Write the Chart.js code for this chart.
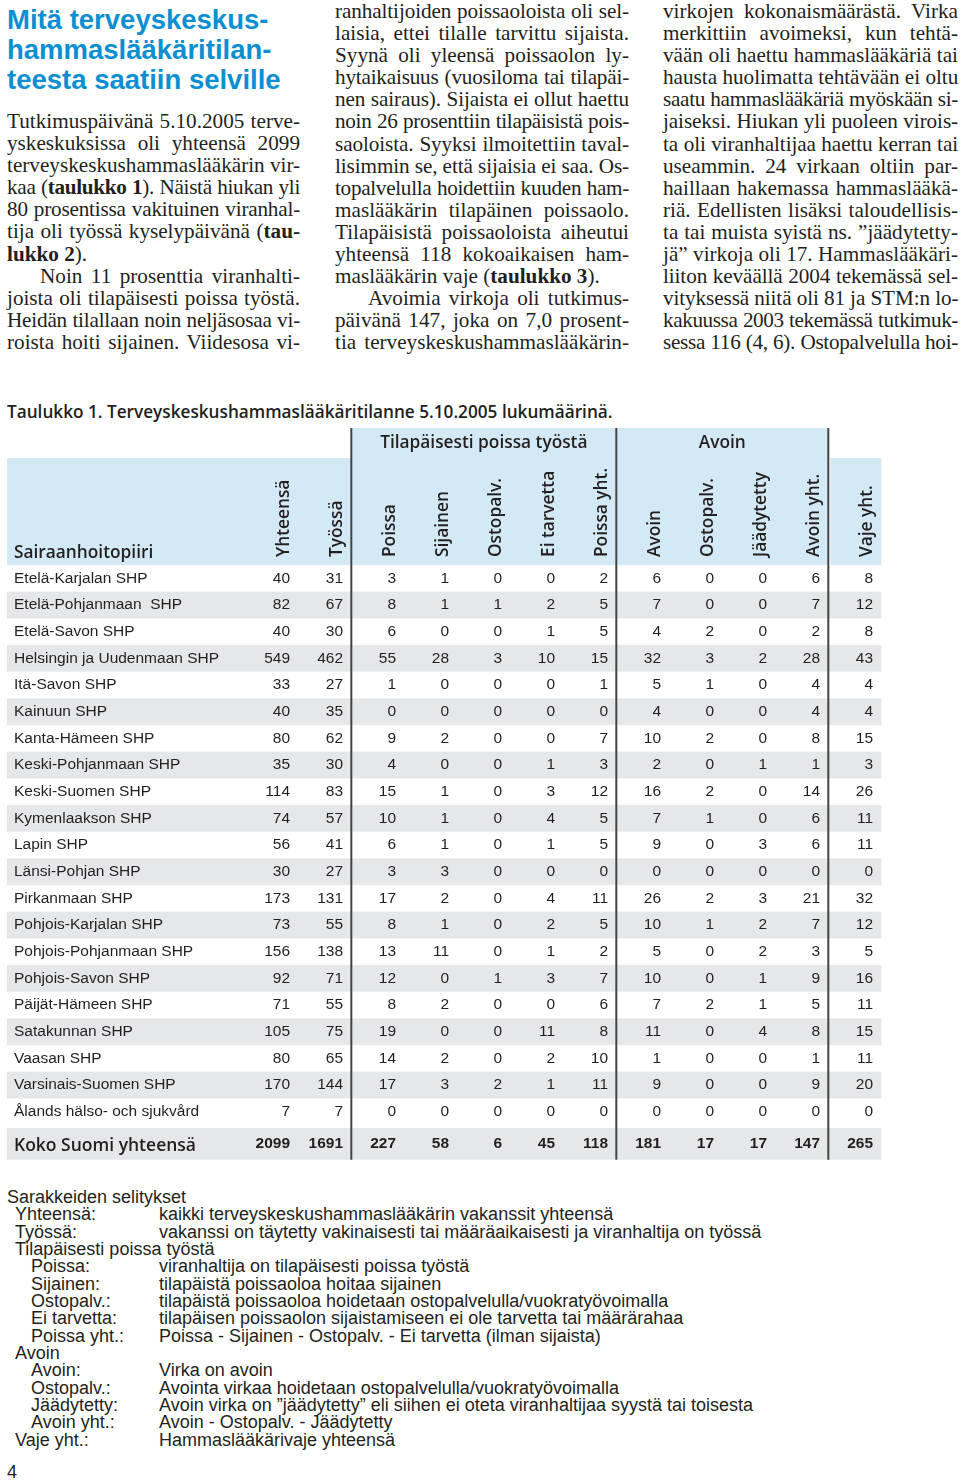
<!DOCTYPE html>
<html lang="fi">
<head>
<meta charset="utf-8">
<script src="https://cdn.jsdelivr.net/npm/chart.js"></script>
<style>
  body { margin: 0; width: 960px; height: 1482px; position: relative; background: #fff; color: #231f20; overflow: hidden; }
  .blk { position: absolute; }
  .title { font-family: "Liberation Sans", Arial, sans-serif; font-weight: bold; font-size: 27.5px; line-height: 30px; color: #0b8fd2; }
  .txt { font-family: "Liberation Serif", "Times New Roman", serif; font-size: 21.2px; line-height: 22.1px; }
  .txt div { white-space: nowrap; text-align: justify; text-align-last: justify; }
  .txt div.end { text-align-last: left; }
  .txt div.ind { text-indent: 33px; }
  .caption { font-family: "Open Sans", sans-serif; font-weight: 600; font-size: 17.2px; }
  .legend { font-family: "Liberation Sans", Arial, sans-serif; font-size: 18px; line-height: 17.35px; }
  .legend div { position: relative; height: 17.35px; white-space: nowrap; }
  .legend span { position: absolute; left: 144px; }
  .legend .l2 span { left: 128px; }
  #wrap { position: absolute; left: 0; top: 395px; width: 960px; height: 770px; }
</style>
</head>
<body>

<div class="blk title" style="left:7px;top:5px;">Mitä terveyskeskus-<br>hammaslääkäritilan-<br>teesta saatiin selville</div>

<div class="blk txt" style="left:7px;top:110px;width:293px;">
  <div>Tutkimuspäivänä 5.10.2005 terve-</div>
  <div>yskeskuksissa oli yhteensä 2099</div>
  <div>terveyskeskushammaslääkärin vir-</div>
  <div>kaa (<b>taulukko 1</b>). Näistä hiukan yli</div>
  <div>80 prosentissa vakituinen viranhal-</div>
  <div>tija oli työssä kyselypäivänä (<b>tau-</b></div>
  <div class="end"><b>lukko 2</b>).</div>
  <div class="ind">Noin 11 prosenttia viranhalti-</div>
  <div>joista oli tilapäisesti poissa työstä.</div>
  <div>Heidän tilallaan noin neljäsosaa vi-</div>
  <div>roista hoiti sijainen. Viidesosa vi-</div>
</div>

<div class="blk txt" style="left:335px;top:0px;width:294px;">
  <div>ranhaltijoiden poissaoloista oli sel-</div>
  <div>laisia, ettei tilalle tarvittu sijaista.</div>
  <div>Syynä oli yleensä poissaolon ly-</div>
  <div>hytaikaisuus (vuosiloma tai tilapäi-</div>
  <div>nen sairaus). Sijaista ei ollut haettu</div>
  <div>noin 26 prosenttiin tilapäisistä pois-</div>
  <div>saoloista. Syyksi ilmoitettiin taval-</div>
  <div>lisimmin se, että sijaisia ei saa. Os-</div>
  <div>topalvelulla hoidettiin kuuden ham-</div>
  <div>maslääkärin tilapäinen poissaolo.</div>
  <div>Tilapäisistä poissaoloista aiheutui</div>
  <div>yhteensä 118 kokoaikaisen ham-</div>
  <div class="end">maslääkärin vaje (<b>taulukko 3</b>).</div>
  <div class="ind">Avoimia virkoja oli tutkimus-</div>
  <div>päivänä 147, joka on 7,0 prosent-</div>
  <div>tia terveyskeskushammaslääkärin-</div>
</div>

<div class="blk txt" style="left:663px;top:0px;width:295px;">
  <div>virkojen kokonaismäärästä. Virka</div>
  <div>merkittiin avoimeksi, kun tehtä-</div>
  <div>vään oli haettu hammaslääkäriä tai</div>
  <div>hausta huolimatta tehtävään ei oltu</div>
  <div>saatu hammaslääkäriä myöskään si-</div>
  <div>jaiseksi. Hiukan yli puoleen virois-</div>
  <div>ta oli viranhaltijaa haettu kerran tai</div>
  <div>useammin. 24 virkaan oltiin par-</div>
  <div>haillaan hakemassa hammaslääkä-</div>
  <div>riä. Edellisten lisäksi taloudellisis-</div>
  <div>ta tai muista syistä ns. ”jäädytetty-</div>
  <div>jä” virkoja oli 17. Hammaslääkäri-</div>
  <div>liiton keväällä 2004 tekemässä sel-</div>
  <div>vityksessä niitä oli 81 ja STM:n lo-</div>
  <div>kakuussa 2003 tekemässä tutkimuk-</div>
  <div>sessa 116 (4, 6). Ostopalvelulla hoi-</div>
</div>

<div class="blk caption" style="left:7px;top:400px;">Taulukko 1. Terveyskeskushammaslääkäritilanne 5.10.2005 lukumäärinä.</div>

<div id="wrap"><canvas id="table"></canvas></div>

<div class="blk legend" style="left:7px;top:1189px;">
  <div>Sarakkeiden selitykset</div>
  <div style="left:8px">Yhteensä:<span>kaikki terveyskeskushammaslääkärin vakanssit yhteensä</span></div>
  <div style="left:8px">Työssä:<span>vakanssi on täytetty vakinaisesti tai määräaikaisesti ja viranhaltija on työssä</span></div>
  <div style="left:8px">Tilapäisesti poissa työstä</div>
  <div class="l2" style="left:24px">Poissa:<span>viranhaltija on tilapäisesti poissa työstä</span></div>
  <div class="l2" style="left:24px">Sijainen:<span>tilapäistä poissaoloa hoitaa sijainen</span></div>
  <div class="l2" style="left:24px">Ostopalv.:<span>tilapäistä poissaoloa hoidetaan ostopalvelulla/vuokratyövoimalla</span></div>
  <div class="l2" style="left:24px">Ei tarvetta:<span>tilapäisen poissaolon sijaistamiseen ei ole tarvetta tai määrärahaa</span></div>
  <div class="l2" style="left:24px">Poissa yht.:<span>Poissa - Sijainen - Ostopalv. - Ei tarvetta (ilman sijaista)</span></div>
  <div style="left:8px">Avoin</div>
  <div class="l2" style="left:24px">Avoin:<span>Virka on avoin</span></div>
  <div class="l2" style="left:24px">Ostopalv.:<span>Avointa virkaa hoidetaan ostopalvelulla/vuokratyövoimalla</span></div>
  <div class="l2" style="left:24px">Jäädytetty:<span>Avoin virka on ”jäädytetty” eli siihen ei oteta viranhaltijaa syystä tai toisesta</span></div>
  <div class="l2" style="left:24px">Avoin yht.:<span>Avoin - Ostopalv. - Jäädytetty</span></div>
  <div style="left:8px">Vaje yht.:<span>Hammaslääkärivaje yhteensä</span></div>
</div>

<div class="blk legend" style="left:7px;top:1464px;">4</div>

<script>
// rows of the table (last one is the national total)
const regions = [
  'Etelä-Karjalan SHP', 'Etelä-Pohjanmaan  SHP', 'Etelä-Savon SHP', 'Helsingin ja Uudenmaan SHP',
  'Itä-Savon SHP', 'Kainuun SHP', 'Kanta-Hämeen SHP', 'Keski-Pohjanmaan SHP', 'Keski-Suomen SHP',
  'Kymenlaakson SHP', 'Lapin SHP', 'Länsi-Pohjan SHP', 'Pirkanmaan SHP', 'Pohjois-Karjalan SHP',
  'Pohjois-Pohjanmaan SHP', 'Pohjois-Savon SHP', 'Päijät-Hämeen SHP', 'Satakunnan SHP',
  'Vaasan SHP', 'Varsinais-Suomen SHP', 'Ålands hälso- och sjukvård', 'Koko Suomi yhteensä'
];

const yhteensa       = [40, 82, 40, 549, 33, 40, 80, 35, 114, 74, 56, 30, 173, 73, 156, 92, 71, 105, 80, 170, 7, 2099];
const tyossa         = [31, 67, 30, 462, 27, 35, 62, 30, 83, 57, 41, 27, 131, 55, 138, 71, 55, 75, 65, 144, 7, 1691];
const poissa         = [3, 8, 6, 55, 1, 0, 9, 4, 15, 10, 6, 3, 17, 8, 13, 12, 8, 19, 14, 17, 0, 227];
const sijainen       = [1, 1, 0, 28, 0, 0, 2, 0, 1, 1, 1, 3, 2, 1, 11, 0, 2, 0, 2, 3, 0, 58];
const ostopalvPoissa = [0, 1, 0, 3, 0, 0, 0, 0, 0, 0, 0, 0, 0, 0, 0, 1, 0, 0, 0, 2, 0, 6];
const eiTarvetta     = [0, 2, 1, 10, 0, 0, 0, 1, 3, 4, 1, 0, 4, 2, 1, 3, 0, 11, 2, 1, 0, 45];
const poissaYht      = [2, 5, 5, 15, 1, 0, 7, 3, 12, 5, 5, 0, 11, 5, 2, 7, 6, 8, 10, 11, 0, 118];
const avoin          = [6, 7, 4, 32, 5, 4, 10, 2, 16, 7, 9, 0, 26, 10, 5, 10, 7, 11, 1, 9, 0, 181];
const ostopalvAvoin  = [0, 0, 2, 3, 1, 0, 2, 0, 2, 1, 0, 0, 2, 1, 0, 0, 2, 0, 0, 0, 0, 17];
const jaadytetty     = [0, 0, 0, 2, 0, 0, 0, 1, 0, 0, 3, 0, 3, 2, 2, 1, 1, 4, 0, 0, 0, 17];
const avoinYht       = [6, 7, 2, 28, 4, 4, 8, 1, 14, 6, 6, 0, 21, 7, 3, 9, 5, 8, 1, 9, 0, 147];
const vajeYht        = [8, 12, 8, 43, 4, 4, 15, 3, 26, 11, 11, 0, 32, 12, 5, 16, 11, 15, 11, 20, 0, 265];

// column keys must be unique for the category scale, labels are what gets shown
const columnKeys = ['yht', 'tyo', 'poi', 'sij', 'ostP', 'eiT', 'poiY', 'avo', 'ostA', 'jaa', 'avoY', 'vaje'];
const columnLabels = ['Yhteensä', 'Työssä', 'Poissa', 'Sijainen', 'Ostopalv.', 'Ei tarvetta',
  'Poissa yht.', 'Avoin', 'Ostopalv.', 'Jäädytetty', 'Avoin yht.', 'Vaje yht.'];
const columnValues = [yhteensa, tyossa, poissa, sijainen, ostopalvPoissa, eiTarvetta,
  poissaYht, avoin, ostopalvAvoin, jaadytetty, avoinYht, vajeYht];

const groupLabels = ['Tilapäisesti poissa työstä', 'Avoin'];
const groupFirst = [2, 7];
const groupLast = [6, 10];

const INK = '#231f20';
const BLUE = '#d4e9f6';
const GREY = '#e6e7e8';
const RULE = '#444444';
const HEAD_SIZE = 17.3;
const lastRow = regions.length - 1;

// squeeze the letter spacing of newspaper lines that would not fit their column
function fitLines() {
  document.querySelectorAll('.txt div').forEach(line => {
    let ls = 0;
    line.style.letterSpacing = '0px';
    while (line.scrollWidth > line.clientWidth && ls > -1.5) {
      ls -= 0.1;
      line.style.letterSpacing = ls.toFixed(1) + 'px';
    }
  });
}
fitLines();
if (document.fonts) document.fonts.ready.then(fitLines);

const tableDecor = {
  id: 'tableDecor',
  beforeDraw(chart) {
    const {ctx, scales: {x, y}} = chart;
    const step = x.getPixelForValue(1) - x.getPixelForValue(0);
    const rowH = y.getPixelForValue(1) - y.getPixelForValue(0);
    const edge = i => x.getPixelForValue(i) + step * 0.27;
    const left = y.left - 7;
    const right = edge(columnKeys.length - 1);
    ctx.save();
    ctx.fillStyle = BLUE;
    // group header band and main header band
    ctx.fillRect(edge(1), x.bottom - 137, edge(10) - edge(1), 31);
    ctx.fillRect(left, x.bottom - 107, edge(10) - left, 107);
    ctx.fillRect(edge(10) + 2, x.bottom - 107, right - edge(10) - 2, 107);
    // zebra stripes
    ctx.fillStyle = GREY;
    regions.forEach((r, i) => {
      const cy = y.getPixelForValue(i);
      if (i === lastRow) {
        ctx.fillRect(left, cy - rowH / 2 + 3, right - left, rowH + 5);
      } else if (i % 2 === 1) {
        ctx.fillRect(left, cy - rowH / 2, right - left, rowH);
      }
    });
    ctx.restore();
  },
  afterDatasetsDraw(chart) {
    const {ctx, chartArea, scales: {x, y}} = chart;
    const step = x.getPixelForValue(1) - x.getPixelForValue(0);
    const edge = i => x.getPixelForValue(i) + step * 0.27;
    ctx.save();
    // cell values
    ctx.textAlign = 'right';
    ctx.textBaseline = 'middle';
    ctx.fillStyle = INK;
    chart.data.datasets.forEach((ds, di) => {
      chart.getDatasetMeta(di).data.forEach((pt, ri) => {
        const total = ri === lastRow;
        ctx.font = (total ? 'bold ' : '') + '15.5px "Liberation Sans", Arial, sans-serif';
        ctx.fillText(String(ds.data[ri].v), pt.x + 6, pt.y + (total ? 5 : 0));
      });
    });
    // column header of the label column and group headers
    ctx.font = '600 ' + HEAD_SIZE + 'px "Open Sans", sans-serif';
    ctx.textAlign = 'left';
    ctx.textBaseline = 'alphabetic';
    ctx.fillText('Sairaanhoitopiiri', y.left, x.bottom - 7);
    ctx.textAlign = 'center';
    ctx.textBaseline = 'middle';
    groupLabels.forEach((g, gi) => {
      const cx = (edge(groupFirst[gi] - 1) + edge(groupLast[gi])) / 2;
      ctx.fillText(g, cx, x.bottom - 122);
    });
    // vertical rules between groups
    ctx.strokeStyle = RULE;
    ctx.lineWidth = 2;
    [1, 6, 10].forEach(i => {
      ctx.beginPath();
      ctx.moveTo(edge(i), x.bottom - 137);
      ctx.lineTo(edge(i), chartArea.bottom + 8);
      ctx.stroke();
    });
    ctx.restore();
  }
};

const datasets = columnKeys.map((key, ci) => ({
  label: columnLabels[ci],
  data: regions.map((r, ri) => ({x: key, y: r, v: columnValues[ci][ri]})),
  pointRadius: 0,
  pointHoverRadius: 0,
  showLine: false
}));

new Chart(document.getElementById('table'), {
  type: 'scatter',
  data: {datasets},
  plugins: [tableDecor],
  options: {
    responsive: true,
    maintainAspectRatio: false,
    animation: false,
    events: [],
    layout: {padding: {left: 14, right: 66.5, top: 0, bottom: 13.3}},
    plugins: {legend: {display: false}, tooltip: {enabled: false}},
    scales: {
      x: {
        type: 'category',
        labels: columnKeys,
        position: 'top',
        offset: true,
        grid: {display: false, drawTicks: false},
        border: {display: false},
        ticks: {
          autoSkip: false,
          minRotation: 90,
          maxRotation: 90,
          padding: 8,
          labelOffset: HEAD_SIZE * 1.2,
          color: INK,
          font: {family: 'Open Sans', weight: '600', size: HEAD_SIZE},
          callback: (v, i) => columnLabels[i]
        },
        afterFit: s => { s.height = 170; }
      },
      y: {
        type: 'category',
        labels: regions,
        offset: true,
        grid: {display: false, drawTicks: false},
        border: {display: false},
        ticks: {
          autoSkip: false,
          crossAlign: 'far',
          padding: 0,
          color: INK,
          // the total row label sits a little lower, as in the printed table
          callback: (v, i) => i === lastRow ? ['', regions[i]] : regions[i],
          font: c => c.index === lastRow
            ? {family: 'Open Sans', weight: '600', size: 17.5, lineHeight: 0.9}
            : {family: 'Liberation Sans', size: 15.5}
        },
        afterFit: s => { s.width = 243.5; }
      }
    }
  }
});
</script>
</body>
</html>
